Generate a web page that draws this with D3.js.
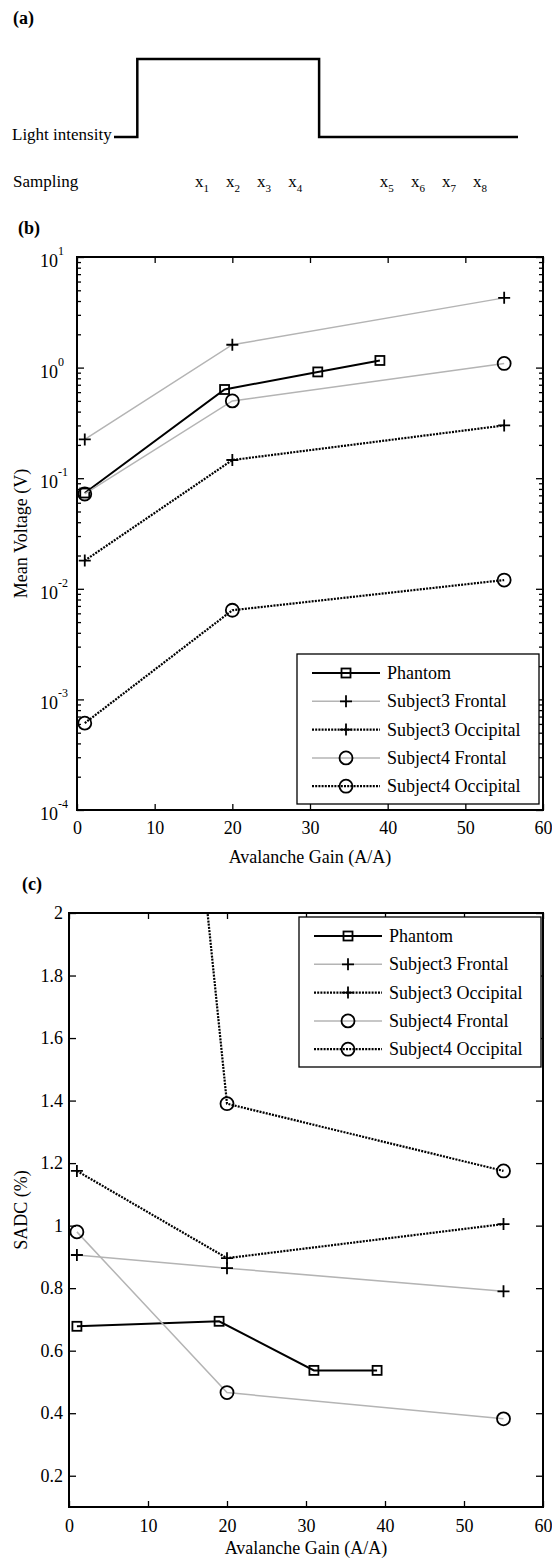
<!DOCTYPE html>
<html>
<head>
<meta charset="utf-8">
<script src="https://d3js.org/d3.v7.min.js"></script>
<style>
body { margin: 0; background: #fff; }
svg text { font-family: "Liberation Serif", "Times New Roman", "DejaVu Serif", serif; fill: #000; }
</style>
</head>
<body>
<div id="fig"></div>
<script>
var svgWidth = 552,
    svgHeight = 1559;
var serif = "'Liberation Serif', 'Times New Roman', 'DejaVu Serif', serif";

// (a) light pulse and sampling instants (arbitrary time units)
var pulseTimes = [0, 0.75, 0.75, 6.6, 6.6, 13];
var pulseLevels = [0, 0, 1, 1, 0, 0];
var sampleTimes = [2.75, 3.75, 4.75, 5.75, 8.7, 9.7, 10.7, 11.7];
var sampleNames = ["1", "2", "3", "4", "5", "6", "7", "8"];

// (b) and (c) series
var seriesNames = ["Phantom", "Subject3 Frontal", "Subject3 Occipital", "Subject4 Frontal", "Subject4 Occipital"];
var gainPhantom = [1, 19, 31, 39];
var gainSubject = [1, 20, 55];

var voltPhantom = [0.0735, 0.634, 0.914, 1.16];
var voltS3Frontal = [0.224, 1.61, 4.27];
var voltS3Occipital = [0.018, 0.146, 0.30];
var voltS4Frontal = [0.072, 0.50, 1.09];
var voltS4Occipital = [0.00061, 0.0064, 0.012];

var sadcPhantom = [0.678, 0.694, 0.537, 0.537];
var sadcS3Frontal = [0.906, 0.864, 0.79];
var sadcS3Occipital = [1.175, 0.896, 1.005];
var sadcS4Frontal = [0.98, 0.466, 0.382];
var sadcS4Occipital = [6.1, 1.39, 1.175];

var gainTicks = [0, 10, 20, 30, 40, 50, 60];
var voltTicks = [1e-4, 1e-3, 1e-2, 1e-1, 1, 10];
var voltExponents = ["-4", "-3", "-2", "-1", "0", "1"];
var sadcTicks = [0.2, 0.4, 0.6, 0.8, 1, 1.2, 1.4, 1.6, 1.8, 2];
var sadcTickLabels = ["0.2", "0.4", "0.6", "0.8", "1", "1.2", "1.4", "1.6", "1.8", "2"];

// line / marker look per series
var styles = [
    {stroke: "#000", width: 2, dash: null, marker: "square"},
    {stroke: "#b4b4b4", width: 1.5, dash: null, marker: "plus"},
    {stroke: "#000", width: 2.2, dash: "2,1.2", marker: "plus"},
    {stroke: "#b4b4b4", width: 1.5, dash: null, marker: "circle"},
    {stroke: "#000", width: 2.2, dash: "2,1.2", marker: "circle"}
];

var svg = d3.select("#fig").append("svg")
    .attr("width", svgWidth)
    .attr("height", svgHeight)
    .attr("font-family", serif);

function txt(parent) {
    return parent.append("text").attr("font-family", serif);
}

function panelLetter(t, x, y) {
    txt(svg).attr("x", x).attr("y", y)
        .attr("font-size", 18).attr("font-weight", "bold").text(t);
}

function drawPulse() {
    var px = d3.scaleLinear().domain([0, 13]).range([114, 518]);
    var py = d3.scaleLinear().domain([0, 1]).range([137, 59]);
    var pts = pulseTimes.map(function(t, i) { return [t, pulseLevels[i]]; });
    svg.append("path")
        .datum(pts)
        .attr("fill", "none")
        .attr("stroke", "#000")
        .attr("stroke-width", 2.5)
        .attr("d", d3.line().x(function(d) { return px(d[0]); }).y(function(d) { return py(d[1]); }));

    txt(svg).attr("x", 12).attr("y", 140).attr("font-size", 17).text("Light intensity");
    txt(svg).attr("x", 13).attr("y", 187).attr("font-size", 17).text("Sampling");

    var s = svg.selectAll(".samp").data(sampleTimes).enter()
        .append("text").attr("class", "samp")
        .attr("font-family", serif)
        .attr("x", function(d) { return px(d) - 4.5; })
        .attr("y", 187)
        .attr("font-size", 17);
    s.append("tspan").text("x");
    s.append("tspan").attr("dy", 5).attr("font-size", 11)
        .text(function(d, i) { return sampleNames[i]; });
}

function addMarker(g, kind, cx, cy) {
    if (kind == "square") {
        g.append("rect").attr("x", cx - 4.5).attr("y", cy - 4.5)
            .attr("width", 9).attr("height", 9)
            .attr("fill", "none").attr("stroke", "#000").attr("stroke-width", 1.8);
    } else if (kind == "plus") {
        g.append("path").attr("d", "M" + (cx - 6) + "," + cy + "h12M" + cx + "," + (cy - 6) + "v12")
            .attr("fill", "none").attr("stroke", "#000").attr("stroke-width", 1.8);
    } else {
        g.append("circle").attr("cx", cx).attr("cy", cy).attr("r", 6.5)
            .attr("fill", "none").attr("stroke", "#000").attr("stroke-width", 1.8);
    }
}

function drawSeries(g, x, y, clipId, series) {
    var plot = g.append("g").attr("clip-path", "url(#" + clipId + ")");
    var line = d3.line().x(function(d) { return x(d[0]); }).y(function(d) { return y(d[1]); });
    series.forEach(function(s, i) {
        var st = styles[i];
        var pts = s.gain.map(function(v, j) { return [v, s.vals[j]]; });
        plot.append("path").datum(pts)
            .attr("fill", "none")
            .attr("stroke", st.stroke)
            .attr("stroke-width", st.width)
            .attr("stroke-dasharray", st.dash)
            .attr("d", line);
        pts.forEach(function(p) { addMarker(plot, st.marker, x(p[0]), y(p[1])); });
    });
}

function drawLegend(g, lx, ly) {
    var lg = g.append("g").attr("transform", "translate(" + lx + "," + ly + ")");
    lg.append("rect").attr("width", 242).attr("height", 150)
        .attr("fill", "#fff").attr("stroke", "#000").attr("stroke-width", 1.3);
    seriesNames.forEach(function(name, i) {
        var st = styles[i];
        var ry = 19 + i * 28.3;
        lg.append("line").attr("x1", 15).attr("x2", 83).attr("y1", ry).attr("y2", ry)
            .attr("stroke", st.stroke).attr("stroke-width", st.width)
            .attr("stroke-dasharray", st.dash);
        addMarker(lg, st.marker, 49, ry);
        txt(lg).attr("x", 90).attr("y", ry + 6).attr("font-size", 18).text(name);
    });
}

function frameTicks(g, x, y, w, h, yMajor, yMinor) {
    var axes = [];
    axes.push(g.append("g").attr("transform", "translate(0," + h + ")")
        .call(d3.axisBottom(x).tickValues(gainTicks).tickSize(-6).tickFormat("")));
    axes.push(g.append("g")
        .call(d3.axisTop(x).tickValues(gainTicks).tickSize(-6).tickFormat("")));
    axes.push(g.append("g").call(d3.axisLeft(y).tickValues(yMajor).tickSize(-7).tickFormat("")));
    axes.push(g.append("g").attr("transform", "translate(" + w + ",0)")
        .call(d3.axisRight(y).tickValues(yMajor).tickSize(-7).tickFormat("")));
    if (yMinor) {
        axes.push(g.append("g").call(d3.axisLeft(y).tickValues(yMinor).tickSize(-4).tickFormat("")));
        axes.push(g.append("g").attr("transform", "translate(" + w + ",0)")
            .call(d3.axisRight(y).tickValues(yMinor).tickSize(-4).tickFormat("")));
    }
    axes.forEach(function(a) {
        a.select(".domain").remove();
        a.selectAll("line").attr("stroke", "#000").attr("stroke-width", 1.3);
    });
    g.append("rect").attr("width", w).attr("height", h)
        .attr("fill", "none").attr("stroke", "#000").attr("stroke-width", 2);
}

function styleLabels(a) {
    a.attr("font-family", serif);
    a.select(".domain").remove();
    a.selectAll("text").attr("font-size", 18).attr("font-family", serif);
}

function gainLabels(g, x, h, pad) {
    g.append("g").attr("transform", "translate(0," + h + ")")
        .call(d3.axisBottom(x).tickValues(gainTicks).tickSize(0).tickPadding(pad))
        .call(styleLabels);
}

// ---- (b) mean voltage, log scale
function drawVoltage() {
    var pos = {left: 77, top: 257, right: 543, bottom: 810};
    var w = pos.right - pos.left, h = pos.bottom - pos.top;
    var g = svg.append("g").attr("transform", "translate(" + pos.left + "," + pos.top + ")");
    var x = d3.scaleLinear().domain([0, 60]).range([0, w]);
    var y = d3.scaleLog().domain([1e-4, 10]).range([h, 0]);

    g.append("clipPath").attr("id", "clipB").append("rect").attr("width", w).attr("height", h);
    drawSeries(g, x, y, "clipB", [
        {gain: gainPhantom, vals: voltPhantom},
        {gain: gainSubject, vals: voltS3Frontal},
        {gain: gainSubject, vals: voltS3Occipital},
        {gain: gainSubject, vals: voltS4Frontal},
        {gain: gainSubject, vals: voltS4Occipital}
    ]);

    var minor = y.ticks().filter(function(v) { return voltTicks.indexOf(v) < 0; });
    frameTicks(g, x, y, w, h, voltTicks, minor);

    var lab = g.selectAll(".ylab").data(voltTicks).enter()
        .append("text").attr("class", "ylab")
        .attr("font-family", serif)
        .attr("x", -37)
        .attr("y", function(d) { return y(d) + 10; })
        .attr("font-size", 18);
    lab.append("tspan").text("10");
    lab.append("tspan").attr("dy", -12).attr("font-size", 12)
        .text(function(d, i) { return voltExponents[i]; });

    gainLabels(g, x, h, 11);
    txt(g).attr("x", w / 2).attr("y", h + 53).attr("text-anchor", "middle")
        .attr("font-size", 18).text("Avalanche Gain (A/A)");
    txt(g).attr("transform", "translate(" + (21 - pos.left) + "," + (h / 2) + ")rotate(-90)")
        .attr("text-anchor", "middle").attr("dy", "0.35em")
        .attr("font-size", 18).text("Mean Voltage (V)");

    drawLegend(g, w - 246, h - 156);
}

// ---- (c) SADC, linear scale
function drawSadc() {
    var pos = {left: 69, top: 913, right: 543, bottom: 1507};
    var w = pos.right - pos.left, h = pos.bottom - pos.top;
    var g = svg.append("g").attr("transform", "translate(" + pos.left + "," + pos.top + ")");
    var x = d3.scaleLinear().domain([0, 60]).range([0, w]);
    var y = d3.scaleLinear().domain([0.1, 2]).range([h, 0]);

    g.append("clipPath").attr("id", "clipC").append("rect").attr("width", w).attr("height", h);
    drawSeries(g, x, y, "clipC", [
        {gain: gainPhantom, vals: sadcPhantom},
        {gain: gainSubject, vals: sadcS3Frontal},
        {gain: gainSubject, vals: sadcS3Occipital},
        {gain: gainSubject, vals: sadcS4Frontal},
        {gain: gainSubject, vals: sadcS4Occipital}
    ]);

    frameTicks(g, x, y, w, h, sadcTicks, null);

    g.append("g")
        .call(d3.axisLeft(y).tickValues(sadcTicks).tickSize(0).tickPadding(6)
            .tickFormat(function(d, i) { return sadcTickLabels[i]; }))
        .call(styleLabels);

    gainLabels(g, x, h, 12);
    txt(g).attr("x", w / 2).attr("y", h + 47).attr("text-anchor", "middle")
        .attr("font-size", 18).text("Avalanche Gain (A/A)");
    txt(g).attr("transform", "translate(" + (21 - pos.left) + "," + (h / 2) + ")rotate(-90)")
        .attr("text-anchor", "middle").attr("dy", "0.35em")
        .attr("font-size", 18).text("SADC (%)");

    drawLegend(g, w - 244, 4);
}

panelLetter("(a)", 13, 24);
drawPulse();
panelLetter("(b)", 18, 234);
drawVoltage();
panelLetter("(c)", 22, 890);
drawSadc();
</script>
</body>
</html>
